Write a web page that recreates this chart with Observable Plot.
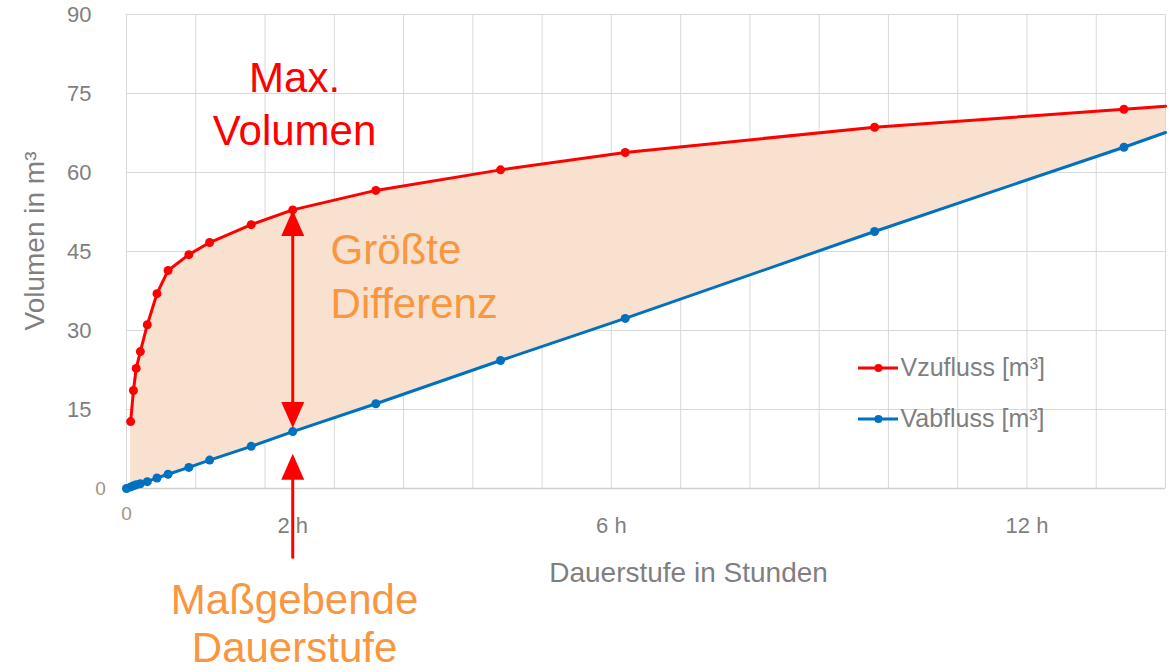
<!DOCTYPE html>
<html>
<head>
<meta charset="utf-8">
<script src="https://cdn.jsdelivr.net/npm/d3@7"></script>
<script src="https://cdn.jsdelivr.net/npm/@observablehq/plot@0.6"></script>
<style>
  html, body { margin: 0; padding: 0; background: #ffffff; }
  #chart svg { display: block; }
</style>
</head>
<body>
<div id="chart"></div>
<script>
// ---- data ----
// Dauerstufe in minutes
const durations = [0, 3, 5, 7, 10, 15, 22, 30, 45, 60, 90, 120, 180, 270, 360, 540, 720, 750];
// Vzufluss [m³]
const inflow  = [null, 12.7, 18.6, 22.8, 26.0, 31.1, 37.0, 41.4, 44.4, 46.7, 50.1, 52.9, 56.6, 60.5, 63.8, 68.6, 72.0, 72.6];
// Vabfluss [m³]
const outflow = [0, 0.3, 0.5, 0.7, 0.9, 1.3, 2.0, 2.7, 4.0, 5.4, 8.0, 10.8, 16.1, 24.3, 32.3, 48.8, 64.8, 67.6];
const lastMarkedDuration = 720;      // points beyond this are only the line running out of the frame
const seriesNames = ["Vzufluss [m³]", "Vabfluss [m³]"];

const yTicks = [0, 15, 30, 45, 60, 75, 90];
const xGrid = [0, 50, 100, 150, 200, 250, 300, 350, 400, 450, 500, 550, 600, 650, 700, 750];
const xTicks = [0, 120, 350, 650];
const xTickLabels = ["0", "2 h", "6 h", "12 h"];

const criticalDuration = 120;        // Maßgebende Dauerstufe (2 h)

// ---- styling ----
const RED = "#ff0000";
const BLUE = "#0070c0";
const ORANGE = "#f9963f";
const PEACH = "#f9e1cf";
const GRID = "#d9d9d9";
const GREY = "#7f7f7f";
const TAN = "#a3937f";
const FONT = "'Liberation Sans', Arial, sans-serif";

const rows = durations.map((t, i) => ({t, zu: inflow[i], ab: outflow[i]}));
const zuRows = rows.filter(d => d.zu != null);
const markedAb = rows.filter(d => d.t <= lastMarkedDuration);
const markedZu = zuRows.filter(d => d.t <= lastMarkedDuration);

// filled arrow heads (tip at the anchor point)
const headUp = {draw(ctx) { ctx.moveTo(0, 0); ctx.lineTo(11.5, 26); ctx.lineTo(-11.5, 26); ctx.closePath(); }};
const headDown = {draw(ctx) { ctx.moveTo(0, 0); ctx.lineTo(11.5, -26); ctx.lineTo(-11.5, -26); ctx.closePath(); }};

const inflowAtCritical = inflow[durations.indexOf(criticalDuration)];

const bigText = {fontSize: 42, lineAnchor: "bottom"};

const chart = Plot.plot({
  width: 1175,
  height: 672,
  marginLeft: 126,
  marginRight: 10,
  marginTop: 14,
  marginBottom: 184,
  x: {domain: [0, 750], axis: null},
  y: {domain: [0, 90], axis: null},
  style: {fontFamily: FONT, background: "#ffffff", overflow: "visible"},
  marks: [
    // gridlines
    Plot.ruleX(xGrid, {stroke: GRID, strokeWidth: 1}),
    Plot.ruleY(yTicks, {stroke: GRID, strokeWidth: 1}),
    // difference area
    Plot.areaY(zuRows, {x: "t", y1: "ab", y2: "zu", fill: PEACH}),
    // filled text box behind "Größte Differenz"
    Plot.rect([{t1: 126, t2: 297, v1: 27.5, v2: 52}], {x1: "t1", x2: "t2", y1: "v1", y2: "v2", fill: PEACH}),
    Plot.ruleY([0], {stroke: "#cfcfcf", strokeWidth: 1.5}),
    // series
    Plot.line(rows, {x: "t", y: "ab", stroke: BLUE, strokeWidth: 3}),
    Plot.line(zuRows, {x: "t", y: "zu", stroke: RED, strokeWidth: 3}),
    Plot.dot(markedAb, {x: "t", y: "ab", fill: BLUE, r: 4.5}),
    Plot.dot(markedZu, {x: "t", y: "zu", fill: RED, r: 4.5}),
    // y tick labels
    Plot.text(yTicks.filter(d => d !== 0), {x: 0, y: d => d, text: d => String(d), textAnchor: "end", dx: -35, fontSize: 22, fill: GREY}),
    Plot.text([0], {x: 0, y: 0, text: d => String(d), textAnchor: "middle", dx: -26, fontSize: 19, fill: TAN}),
    // x tick labels
    Plot.text([xTicks[0]], {x: d => d, y: 0, text: () => xTickLabels[0], dy: 25, fontSize: 19, fill: TAN}),
    Plot.text(xTicks.slice(1), {x: d => d, y: 0, text: (d, i) => xTickLabels[i + 1], dy: 37, fontSize: 22, fill: GREY}),
    // axis titles
    Plot.text(["Dauerstufe in Stunden"], {x: 405.7, y: -16, fontSize: 28, fill: GREY}),
    Plot.text(["Volumen in m³"], {x: -65.7, y: 47, rotate: -90, fontSize: 28, fill: GREY}),
    // arrows at the critical duration
    Plot.ruleX([criticalDuration], {y1: 49, y2: 15.5, stroke: RED, strokeWidth: 3}),
    Plot.dot([{t: criticalDuration, v: inflowAtCritical}], {x: "t", y: "v", symbol: headUp, r: 5, fill: RED, stroke: null}),
    Plot.dot([{t: criticalDuration, v: 11.5}], {x: "t", y: "v", symbol: headDown, r: 5, fill: RED, stroke: null}),
    Plot.ruleX([criticalDuration], {y1: 3, y2: -13.4, stroke: RED, strokeWidth: 3}),
    Plot.dot([{t: criticalDuration, v: 6.6}], {x: "t", y: "v", symbol: headUp, r: 5, fill: RED, stroke: null}),
    // annotations
    Plot.text([{s: "Max.", t: 121.3, v: 75.2}, {s: "Volumen", t: 121.3, v: 65.3}],
      {x: "t", y: "v", text: "s", textAnchor: "middle", fill: RED, ...bigText}),
    Plot.text([{s: "Größte", t: 147.3, v: 42.7}, {s: "Differenz", t: 147.3, v: 32.4}],
      {x: "t", y: "v", text: "s", textAnchor: "start", fill: ORANGE, ...bigText}),
    Plot.text([{s: "Maßgebende", t: 121.3, v: -23.8}, {s: "Dauerstufe", t: 121.3, v: -33.0}],
      {x: "t", y: "v", text: "s", textAnchor: "middle", fill: ORANGE, ...bigText}),
    // legend
    Plot.ruleY([22.9], {x1: 528.4, x2: 557.3, stroke: RED, strokeWidth: 3}),
    Plot.dot([{t: 542.8, v: 22.9}], {x: "t", y: "v", fill: RED, r: 4}),
    Plot.text([seriesNames[0]], {x: 558.7, y: 22.9, textAnchor: "start", fontSize: 25, fill: GREY}),
    Plot.ruleY([13.2], {x1: 528.4, x2: 557.3, stroke: BLUE, strokeWidth: 3}),
    Plot.dot([{t: 542.8, v: 13.2}], {x: "t", y: "v", fill: BLUE, r: 4}),
    Plot.text([seriesNames[1]], {x: 558.7, y: 13.2, textAnchor: "start", fontSize: 25, fill: GREY})
  ]
});

document.getElementById("chart").appendChild(chart);
</script>
</body>
</html>
